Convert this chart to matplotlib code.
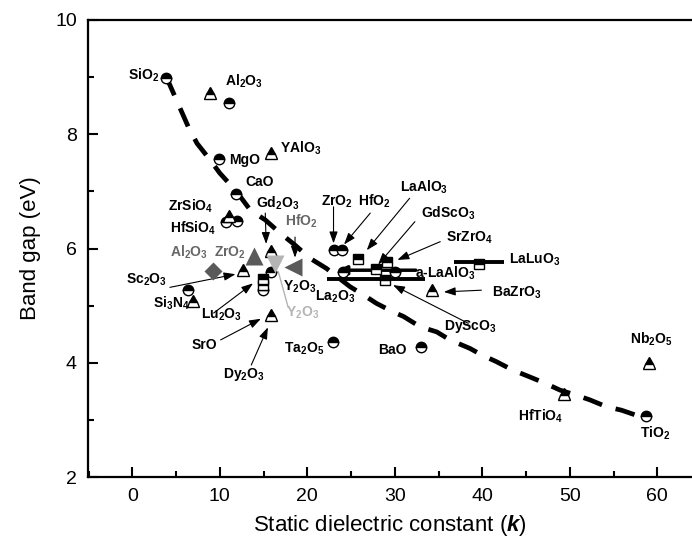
import matplotlib.pyplot as plt
from matplotlib.ticker import MultipleLocator

plt.rcParams['font.family'] = 'Liberation Sans'
plt.rcParams['mathtext.fontset'] = 'custom'
plt.rcParams['mathtext.rm'] = 'Liberation Sans:bold'
plt.rcParams['mathtext.bf'] = 'Liberation Sans:bold'
plt.rcParams['mathtext.it'] = 'Liberation Sans:bold:italic'
plt.rcParams['mathtext.default'] = 'rm'

# oxides drawn as half-filled circles
circ_name = ['SiO2', 'Al2O3', 'MgO', 'CaO', 'ZrSiO4', 'HfSiO4', 'Si3N4', 'Lu2O3',
             'Y2O3', 'ZrO2', 'HfO2', 'La2O3', 'La2O3', 'Ta2O5', 'BaO', 'TiO2']
circ_k = [3.9, 11.0, 9.9, 11.9, 10.7, 12.0, 6.4, 14.9, 15.9, 23.0, 24.0, 24.1, 30.0, 22.9, 33.0, 58.7]
circ_eg = [8.98, 8.54, 7.56, 6.96, 6.47, 6.49, 5.28, 5.27, 5.59, 5.97, 5.98, 5.58, 5.58, 4.37, 4.28, 3.06]

# oxides drawn as half-filled triangles
tri_name = ['Al2O3', 'YAlO3', 'ZrSiO4', 'Gd2O3', 'Sc2O3', 'Si3N4', 'SrO', 'BaZrO3', 'HfTiO4', 'Nb2O5']
tri_k = [8.9, 15.9, 11.0, 15.9, 12.6, 6.9, 15.9, 34.3, 49.3, 59.1]
tri_eg = [8.73, 7.67, 6.57, 5.96, 5.63, 5.08, 4.83, 5.27, 3.46, 3.99]

# oxides drawn as half-filled squares
sq_name = ['Lu2O3', 'Lu2O3', 'LaAlO3', 'GdScO3', 'SrZrO4', 'DyScO3', 'LaLuO3']
sq_k = [14.9, 14.9, 25.8, 27.9, 29.1, 28.9, 39.6]
sq_eg = [5.47, 5.36, 5.82, 5.64, 5.77, 5.44, 5.73]

# k ranges shown as bars
bar_name = ['a-LaAlO3', 'La2O3', 'LaLuO3']
bar_k0 = [24.5, 22.3, 36.8]
bar_k1 = [32.4, 33.5, 42.5]
bar_eg = [5.62, 5.46, 5.76]

# grey symbols
grey_name = ['Al2O3', 'ZrO2', 'HfO2', 'Y2O3']
grey_k = [9.2, 13.9, 18.4, 16.3]
grey_eg = [5.61, 5.87, 5.67, 5.72]

# trend line
curve_k = [3.9, 6.4, 7.4, 8.9, 10.0, 11.9, 13.5, 15.2, 16.9, 18.6, 20.3, 22.2, 24.9, 26.4,
           27.9, 29.8, 31.0, 32.9, 34.8, 36.3, 38.6, 39.9, 41.6, 43.5, 45.3, 47.2, 48.9,
           50.6, 52.3, 54.2, 55.9, 57.8]
curve_eg = [9.0, 8.13, 7.84, 7.55, 7.32, 7.0, 6.67, 6.5, 6.27, 6.06, 5.83, 5.65, 5.33, 5.19,
            5.04, 4.89, 4.81, 4.63, 4.54, 4.40, 4.25, 4.14, 4.02, 3.87, 3.76, 3.64, 3.52,
            3.44, 3.35, 3.23, 3.17, 3.07]

# label text, left edge (k), centre (Eg), colour
labels = [
    (r'SiO$_2$', -0.5, 9.04, 'k'),
    (r'Al$_2$O$_3$', 10.6, 8.92, 'k'),
    (r'MgO', 11.1, 7.55, 'k'),
    (r'YAlO$_3$', 16.9, 7.75, 'k'),
    (r'CaO', 12.9, 7.17, 'k'),
    (r'Gd$_2$O$_3$', 14.1, 6.80, 'k'),
    (r'ZrSiO$_4$', 4.1, 6.73, 'k'),
    (r'HfSiO$_4$', 4.3, 6.35, 'k'),
    (r'HfO$_2$', 17.4, 6.47, '#666666'),
    (r'ZrO$_2$', 9.3, 5.92, '#666666'),
    (r'Al$_2$O$_3$', 4.3, 5.94, '#666666'),
    (r'ZrO$_2$', 21.6, 6.82, 'k'),
    (r'HfO$_2$', 25.8, 6.82, 'k'),
    (r'LaAlO$_3$', 30.6, 7.08, 'k'),
    (r'GdScO$_3$', 33.0, 6.62, 'k'),
    (r'SrZrO$_4$', 35.9, 6.18, 'k'),
    (r'LaLuO$_3$', 43.1, 5.80, 'k'),
    (r'a-LaAlO$_3$', 32.3, 5.57, 'k'),
    (r'BaZrO$_3$', 41.1, 5.22, 'k'),
    (r'DyScO$_3$', 35.6, 4.63, 'k'),
    (r'La$_2$O$_3$', 20.9, 5.16, 'k'),
    (r'Y$_2$O$_3$', 17.2, 5.33, 'k'),
    (r'Y$_2$O$_3$', 17.6, 4.87, '#b4b4b4'),
    (r'Sc$_2$O$_3$', -0.7, 5.45, 'k'),
    (r'Si$_3$N$_4$', 2.4, 5.04, 'k'),
    (r'Lu$_2$O$_3$', 7.9, 4.84, 'k'),
    (r'SrO', 6.8, 4.31, 'k'),
    (r'Dy$_2$O$_3$', 10.4, 3.79, 'k'),
    (r'Ta$_2$O$_5$', 17.3, 4.25, 'k'),
    (r'BaO', 28.1, 4.22, 'k'),
    (r'HfTiO$_4$', 44.1, 3.06, 'k'),
    (r'Nb$_2$O$_5$', 56.9, 4.41, 'k'),
    (r'TiO$_2$', 58.0, 2.76, 'k'),
]

# pointer arrows: tail (k, Eg) -> head (k, Eg)
arrows = [
    (15.2, 6.62, 15.3, 6.08),
    (18.6, 6.20, 18.6, 5.84),
    (23.0, 6.73, 23.0, 6.09),
    (27.2, 6.62, 24.2, 6.07),
    (31.7, 6.88, 26.8, 5.97),
    (32.3, 6.47, 28.1, 5.72),
    (35.2, 6.12, 30.3, 5.80),
    (38.4, 4.69, 29.8, 5.36),
    (39.9, 5.27, 35.6, 5.24),
    (4.3, 5.32, 11.8, 5.55),
    (9.3, 4.87, 13.8, 5.39),
    (10.1, 4.40, 14.7, 4.77),
    (13.6, 3.96, 15.5, 4.62),
]

fig = plt.figure(figsize=(6.92, 5.47), dpi=100)
ax = fig.add_axes([88 / 692, 70 / 547, 604 / 692, 457 / 547])

ax.plot(curve_k, curve_eg, color='black', lw=3.4, ls=(0, (4.2, 3.0)), zorder=2)

for n, k0, k1, e in zip(bar_name, bar_k0, bar_k1, bar_eg):
    if n == 'a-LaAlO3':
        ax.annotate('', xy=(k0 - 1.0, e), xytext=(k1, e),
                    arrowprops=dict(arrowstyle='-|>,head_length=0.5,head_width=0.25',
                                    lw=2.5, color='black', shrinkA=0, shrinkB=0), zorder=3)
    else:
        ax.plot([k0, k1], [e, e], color='black', lw=2.8, solid_capstyle='butt', zorder=3)

for x0, y0, x1, y1 in arrows:
    ax.annotate('', xy=(x1, y1), xytext=(x0, y0),
                arrowprops=dict(arrowstyle='-|>,head_length=0.7,head_width=0.25',
                                lw=0.8, color='black', shrinkA=0, shrinkB=0), zorder=3)

# thin grey pointer for the grey Y2O3 label
ax.plot([17.8, 16.7], [4.98, 5.59], color='#b4b4b4', lw=1.0, zorder=3)

half = dict(ls='none', mfc='black', markerfacecoloralt='white', mec='black',
            mew=1.0, fillstyle='top', zorder=4)
ax.plot(circ_k, circ_eg, marker='o', ms=7.5, **half)
ax.plot(tri_k, tri_eg, marker='^', ms=9, **half)
ax.plot(sq_k, sq_eg, marker='s', ms=7, **half)

grey_style = {'Al2O3': ('D', 9, '#5a5a5a'), 'ZrO2': ('^', 13, '#5a5a5a'),
              'HfO2': ('<', 13, '#5a5a5a'), 'Y2O3': ('v', 13, '#b4b4b4')}
for n, k, e in zip(grey_name, grey_k, grey_eg):
    m, s, c = grey_style[n]
    ax.plot(k, e, marker=m, ms=s, color=c, mec='none', ls='none', zorder=5)

for t, x, y, c in labels:
    ax.text(x, y, t, color=c, fontsize=10, fontweight='bold', ha='left', va='center', zorder=6)

ax.set_xlim(-5.06, 63.97)
ax.set_ylim(2, 10)
ax.xaxis.set_major_locator(MultipleLocator(10))
ax.xaxis.set_minor_locator(MultipleLocator(5))
ax.yaxis.set_major_locator(MultipleLocator(2))
ax.yaxis.set_minor_locator(MultipleLocator(1))
ax.tick_params(which='both', direction='in', width=1.5, labelsize=14, top=False, right=False)
ax.tick_params(which='major', length=7, pad=8)
ax.tick_params(which='minor', length=4)
for s in ['left', 'bottom', 'top']:
    ax.spines[s].set_linewidth(1.6)
ax.spines['right'].set_visible(False)

ax.set_xlabel(r'Static dielectric constant ($\mathit{k}$)', fontsize=16, labelpad=6)
ax.set_ylabel('Band gap (eV)', fontsize=16, labelpad=10)

fig.savefig('out.png', dpi=100)
